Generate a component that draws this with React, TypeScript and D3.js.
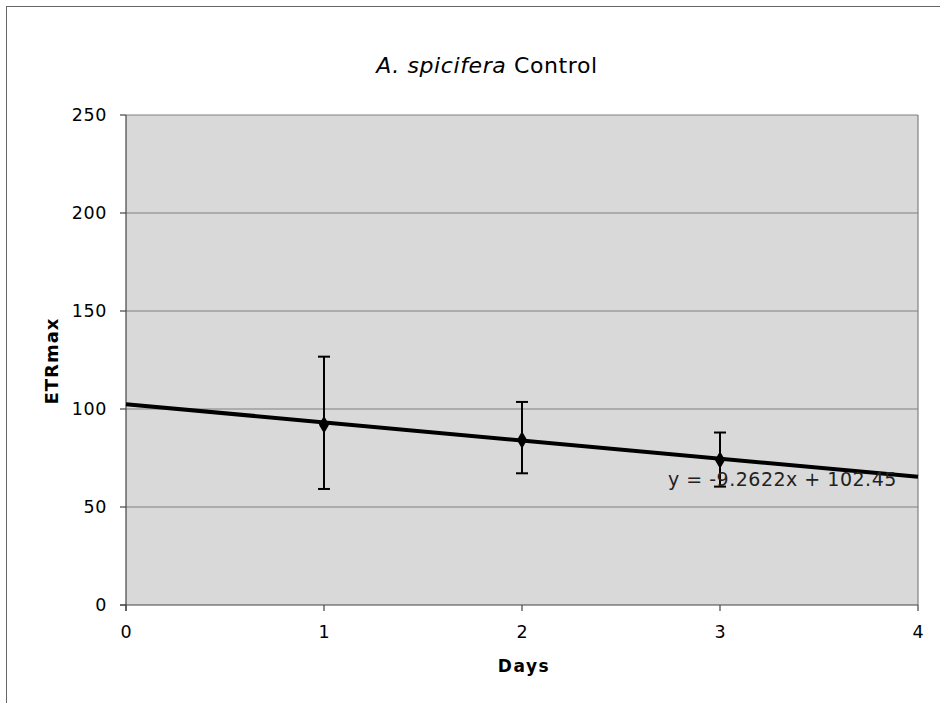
import React from "react";
import * as d3 from "d3";

const days = [1, 2, 3];
const etrMean = [92, 84.2, 74];
const errUpper = [126.7, 103.6, 88];
const errLower = [59.2, 67.2, 60.4];
const yTicks = [0, 50, 100, 150, 200, 250];
const xTicks = [0, 1, 2, 3, 4];
const slope = -9.2622;
const intercept = 102.45;
const eqLabel = "y = -9.2622x + 102.45";

export default function App() {
  const W = 940, H = 703;
  const L = 126, R = 918, T = 115, B = 605;
  const x = d3.scaleLinear().domain([0, 4]).range([L, R]);
  const y = d3.scaleLinear().domain([0, 250]).range([B, T]);
  const font = "'DejaVu Sans', Verdana, sans-serif";
  const diamond = d3.symbol().type(d3.symbolDiamond).size(90)();
  const trend = d3.line<number>().x(d => x(d)).y(d => y(slope * d + intercept))([0, 4]);
  return (
    <svg width={W} height={H} style={{ position: "absolute", left: 0, top: 0 }} fontFamily={font}>
      <rect x={0} y={0} width={W} height={H} fill="#fff" />
      <line x1={6} y1={6.5} x2={W} y2={6.5} stroke="#666" />
      <line x1={6.5} y1={6} x2={6.5} y2={H} stroke="#666" />
      <rect x={L} y={T} width={R - L} height={B - T} fill="#d9d9d9" />
      {yTicks.filter(t => t > 0).map(t => (
        <line key={t} x1={L} x2={R} y1={y(t)} y2={y(t)} stroke="#808080" strokeWidth={1.2} />
      ))}
      <line x1={R} x2={R} y1={T} y2={B} stroke="#808080" strokeWidth={1.2} />
      <line x1={L} x2={L} y1={T} y2={B + 6} stroke="#444" strokeWidth={1.2} />
      <line x1={L - 6} x2={R} y1={B} y2={B} stroke="#444" strokeWidth={1.2} />
      {yTicks.map(t => (
        <g key={t}>
          <line x1={L - 6} x2={L} y1={y(t)} y2={y(t)} stroke="#444" strokeWidth={1.2} />
          <text x={L - 19} y={y(t)} dy="0.35em" textAnchor="end" fontSize={17.5} letterSpacing={0.6} fill="#000">{t}</text>
        </g>
      ))}
      {xTicks.map(t => (
        <g key={t}>
          <line x1={x(t)} x2={x(t)} y1={B} y2={B + 6} stroke="#444" strokeWidth={1.2} />
          <text x={x(t)} y={y(0) + 27} dy="0.35em" textAnchor="middle" fontSize={17.5} fill="#000">{t}</text>
        </g>
      ))}
      {days.map((d, i) => (
        <g key={d} stroke="#000" strokeWidth={2}>
          <line x1={x(d)} x2={x(d)} y1={y(errUpper[i])} y2={y(errLower[i])} />
          <line x1={x(d) - 6} x2={x(d) + 6} y1={y(errUpper[i])} y2={y(errUpper[i])} />
          <line x1={x(d) - 6} x2={x(d) + 6} y1={y(errLower[i])} y2={y(errLower[i])} />
        </g>
      ))}
      <path d={trend ?? ""} stroke="#000" strokeWidth={4} fill="none" />
      {days.map((d, i) => (
        <path key={d} d={diamond ?? ""} transform={`translate(${x(d)},${y(etrMean[i])})`} fill="#000" />
      ))}
      <text x={668} y={486} fontSize={19} letterSpacing={0.5} fill="#222">{eqLabel}</text>
      <text x={487} y={73} textAnchor="middle" fontSize={22} letterSpacing={0.6} fill="#000">
        <tspan fontStyle="italic">A. spicifera</tspan> Control
      </text>
      <text x={524} y={672} textAnchor="middle" fontSize={17} letterSpacing={1.5} fontWeight="bold" fill="#000">Days</text>
      <text transform={`translate(52,${361}) rotate(-90)`} textAnchor="middle" dy="0.35em" fontSize={18} letterSpacing={1} fontWeight="bold" fill="#000">ETRmax</text>
    </svg>
  );
}
